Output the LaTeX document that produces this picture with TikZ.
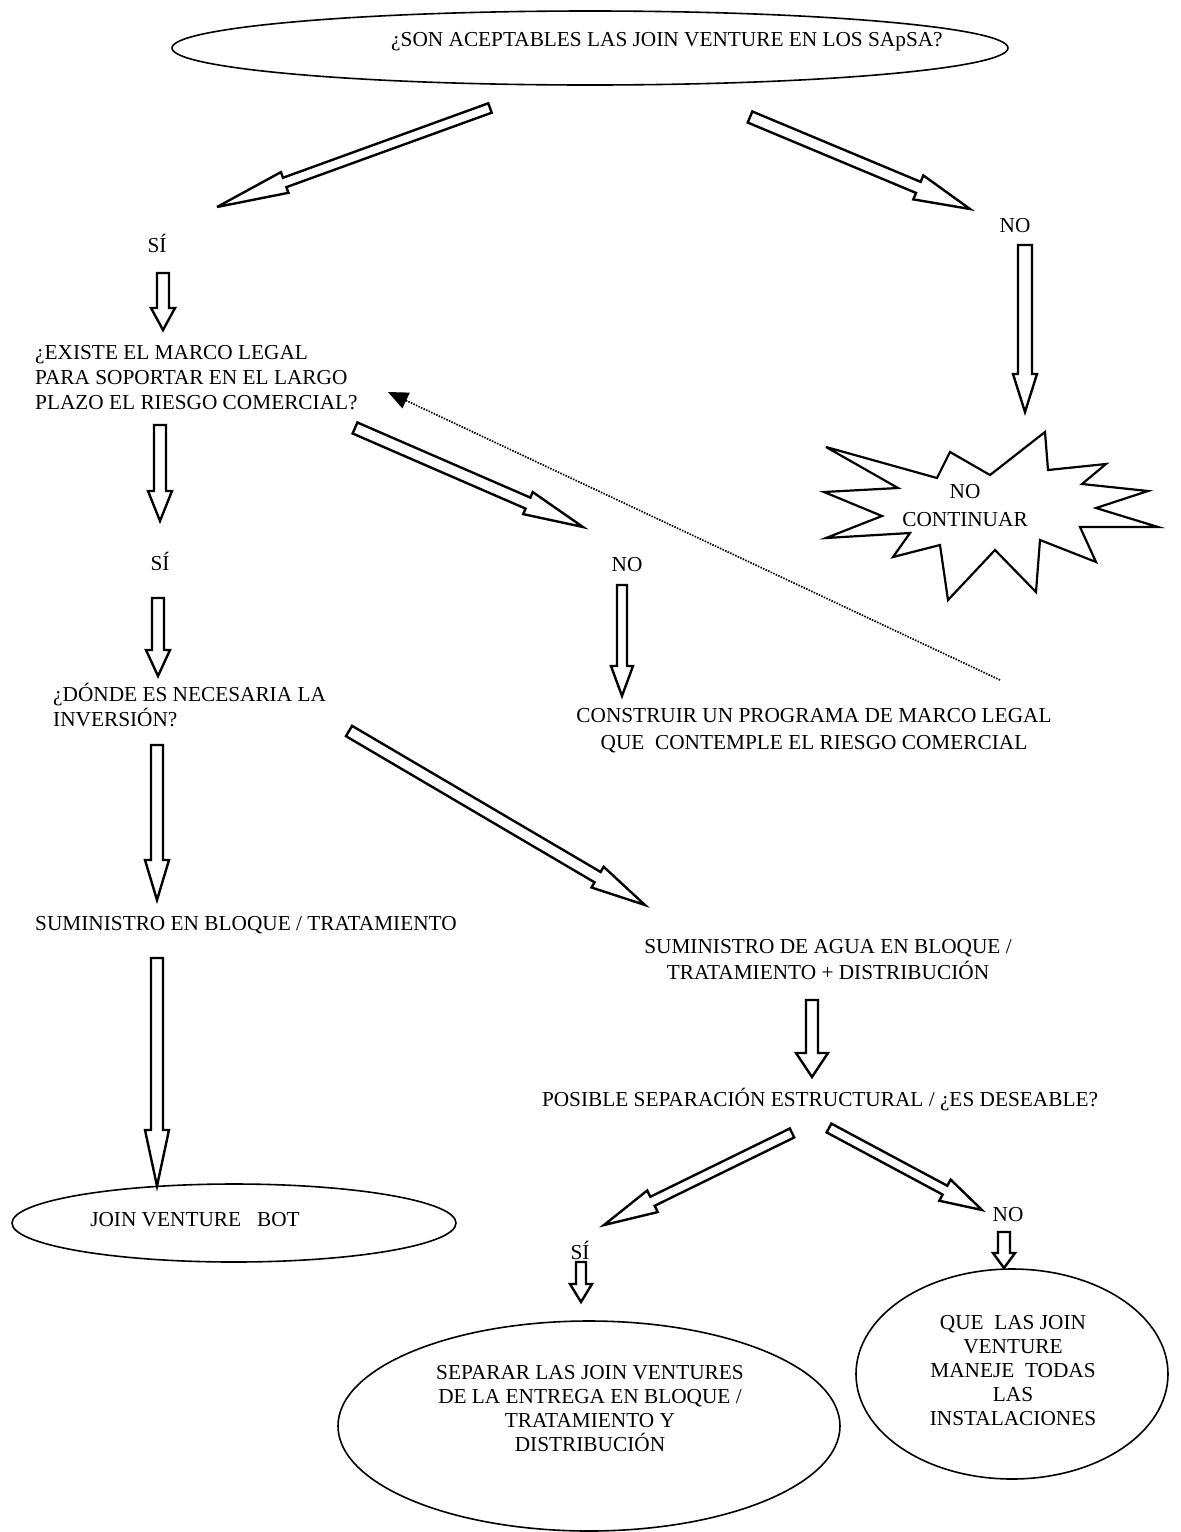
\documentclass[tikz,border=0pt]{standalone}
\usepackage{fontspec}
\setmainfont{Liberation Serif}
\newfontfamily\tnr{Liberation Serif}
\usetikzlibrary{calc,shapes.geometric,arrows.meta}

\tikzset{
  lbl/.style={font=\tnr\fontsize{21.3}{25}\selectfont, inner sep=0pt},
  oval/.style={draw, ellipse, line width=1.6pt, inner sep=0pt},
  hollow/.style={draw, line width=2.4pt, line join=miter, miter limit=6, fill=white},
  dotline/.style={line width=1.7pt, dash pattern=on 1.5pt off 1.3pt,
                  -{Triangle[length=20pt,width=17pt]}},
  burst/.style={draw, line width=2.2pt, line join=miter, miter limit=8},
}

% hollow block arrow: #1 tail, #2 tip, #3 shaft half width,
% #4 head half width, #5 head length
\newcommand\blockarrow[5]{%
  \coordinate (ba-b) at ($(#2)!#5!(#1)$);
  \draw[hollow]
    ($(#1)!#3!90:(#2)$) --
    ($(ba-b)!#3!-90:(#1)$) --
    ($(ba-b)!#4!-90:(#1)$) --
    (#2) --
    ($(ba-b)!#4!90:(#1)$) --
    ($(ba-b)!#3!90:(#1)$) --
    ($(#1)!#3!-90:(#2)$) -- cycle;
}

\begin{document}
\begin{tikzpicture}[x=1pt,y=-1pt]
\useasboundingbox (0,0) rectangle (1181,1532);

% ---------- ovals ----------
\node[oval, minimum width=836pt, minimum height=74pt] (top) at (590,48) {};
\node[lbl] (q1) at (667,42) {¿SON ACEPTABLES LAS JOIN VENTURE EN LOS SApSA?};

\node[oval, minimum width=444pt, minimum height=78pt] (bot) at (234,1223) {};
\node[lbl] (bottxt) at (195,1220) {JOIN VENTURE\ \ \ BOT};

\node[oval, minimum width=502pt, minimum height=210pt] (res1) at (589,1426) {};
\node[lbl, align=center, font=\tnr\fontsize{21.3}{24}\selectfont] (res1txt) at (590,1409)
  {SEPARAR LAS JOIN VENTURES\\DE LA ENTREGA EN BLOQUE /\\TRATAMIENTO Y\\DISTRIBUCIÓN};

\node[oval, minimum width=312pt, minimum height=210pt] (res2) at (1012,1374) {};
\node[lbl, align=center, font=\tnr\fontsize{21.3}{24}\selectfont] (res2txt) at (1013,1371)
  {QUE\ \ LAS JOIN\\VENTURE\\MANEJE\ \ TODAS\\LAS\\INSTALACIONES};

% ---------- texts ----------
\node[lbl] (si1) at (157,243) {SÍ};
\node[lbl] (no1) at (1015,226) {NO};
\node[lbl, anchor=west, align=left] (q2) at (35,378)
  {¿EXISTE EL MARCO LEGAL\\PARA SOPORTAR EN EL LARGO\\PLAZO EL RIESGO COMERCIAL?};
\node[lbl] (si2) at (160,561) {SÍ};
\node[lbl] (no2) at (627,565) {NO};
\node[lbl, anchor=west, align=left] (q3) at (53,705)
  {¿DÓNDE ES NECESARIA LA\\INVERSIÓN?};
\node[lbl, align=center, font=\tnr\fontsize{21.3}{27}\selectfont] (act1) at (814,731)
  {CONSTRUIR UN PROGRAMA DE MARCO LEGAL\\QUE\ \ CONTEMPLE EL RIESGO COMERCIAL};
\node[lbl, anchor=west] (opt1) at (35,925) {SUMINISTRO EN BLOQUE / TRATAMIENTO};
\node[lbl, align=center, font=\tnr\fontsize{21.3}{26}\selectfont] (opt2) at (828,960)
  {SUMINISTRO DE AGUA EN BLOQUE /\\TRATAMIENTO + DISTRIBUCIÓN};
\node[lbl] (q4) at (820,1100) {POSIBLE SEPARACIÓN ESTRUCTURAL / ¿ES DESEABLE?};
\node[lbl] (si3) at (580,1250) {SÍ};
\node[lbl] (no3) at (1008,1215) {NO};

% ---------- starburst ----------
\draw[burst] (826,447) -- (937,478) -- (950,452) -- (990,475) -- (1045,432)
  -- (1048,470) -- (1106,464) -- (1082,484) -- (1148,491) -- (1096,508)
  -- (1158,527) -- (1080,527) -- (1096,562) -- (1040,540) -- (1036,592)
  -- (995,550) -- (948,600) -- (940,545) -- (893,557) -- (910,533)
  -- (826,538) -- (882,516) -- (824,492) -- (898,488) -- cycle;
\node[lbl, align=center, font=\tnr\fontsize{21.3}{28}\selectfont] (stop) at (965,506) {NO\\CONTINUAR};

% ---------- arrow end points ----------
\coordinate (a1t) at (490,108);  \coordinate (a1h) at (217,207);
\coordinate (a2t) at (750,117);  \coordinate (a2h) at (970,209);
\coordinate (a3t) at (163,273);  \coordinate (a3h) at (163,330);
\coordinate (a4t) at (1025,245); \coordinate (a4h) at (1025,412);
\coordinate (a5t) at (160,425);  \coordinate (a5h) at (160,521);
\coordinate (a6t) at (355,428);  \coordinate (a6h) at (583,527);
\coordinate (a7t) at (158,598);  \coordinate (a7h) at (158,676);
\coordinate (a8t) at (622,585);  \coordinate (a8h) at (622,696);
\coordinate (a9t) at (157,745);  \coordinate (a9h) at (157,900);
\coordinate (a10t) at (349,731); \coordinate (a10h) at (645,905);
\coordinate (a11t) at (157,958); \coordinate (a11h) at (157,1186);
\coordinate (a12t) at (812,1000); \coordinate (a12h) at (812,1077);
\coordinate (a13t) at (792,1133); \coordinate (a13h) at (604,1225);
\coordinate (a14t) at (829,1128); \coordinate (a14h) at (982,1210);
\coordinate (a15t) at (581,1262); \coordinate (a15h) at (581,1302);
\coordinate (a16t) at (1004,1232); \coordinate (a16h) at (1004,1268);

% ---------- hollow arrows ----------
\blockarrow{a1t}{a1h}{5pt}{11pt}{72pt}
\blockarrow{a2t}{a2h}{6pt}{13pt}{56pt}
\blockarrow{a3t}{a3h}{6pt}{12pt}{22pt}
\blockarrow{a4t}{a4h}{7pt}{12pt}{38pt}
\blockarrow{a5t}{a5h}{6pt}{12pt}{30pt}
\blockarrow{a6t}{a6h}{6pt}{12pt}{60pt}
\blockarrow{a7t}{a7h}{6pt}{12pt}{26pt}
\blockarrow{a8t}{a8h}{5pt}{11pt}{30pt}
\blockarrow{a9t}{a9h}{6pt}{12pt}{40pt}
\blockarrow{a10t}{a10h}{6pt}{12pt}{55pt}
\blockarrow{a11t}{a11h}{6pt}{12pt}{56pt}
\blockarrow{a12t}{a12h}{6pt}{16pt}{24pt}
\blockarrow{a13t}{a13h}{5pt}{12pt}{54pt}
\blockarrow{a14t}{a14h}{5pt}{12pt}{42pt}
\blockarrow{a15t}{a15h}{5pt}{11pt}{18pt}
\blockarrow{a16t}{a16h}{6pt}{11pt}{15pt}

% ---------- dotted feedback link ----------
\coordinate (fbs) at (1000,680);
\coordinate (fbe) at (388,392);
\draw[dotline] (fbs) -- (fbe);

\end{tikzpicture}
\end{document}
